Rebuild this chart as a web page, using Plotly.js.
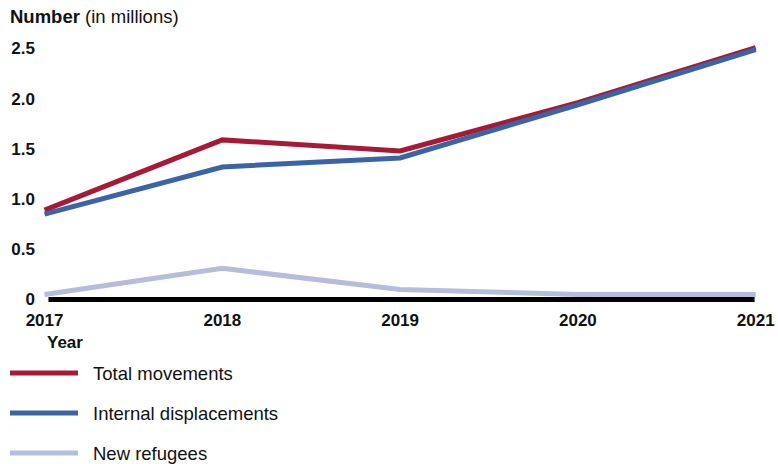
<!DOCTYPE html>
<html><head><meta charset="utf-8">
<script src="https://cdn.plot.ly/plotly-3.0.1.min.js"></script>
<style>html,body{margin:0;padding:0;background:#fff}#chart{width:778px;height:464px}</style>
</head><body><div id="chart"></div>
<script>
var years = [2017, 2018, 2019, 2020, 2021];
var totalMovements = [0.89, 1.59, 1.48, 1.96, 2.51];
var internalDisplacements = [0.85, 1.32, 1.41, 1.94, 2.49];
var newRefugees = [0.05, 0.31, 0.10, 0.05, 0.05];
var seriesNames = ['Total movements', 'Internal displacements', 'New refugees'];
var seriesColors = ['#a71a35', '#3b64a5', '#b6bcdc'];
var seriesValues = [totalMovements, internalDisplacements, newRefugees];
var yTicks = [0, 0.5, 1.0, 1.5, 2.0, 2.5];
var yTickText = ['0', '0.5', '1.0', '1.5', '2.0', '2.5'];

var FONT = 'Liberation Sans, Arial, sans-serif';
var traces = seriesValues.map(function (vals, i) {
  return {
    x: years, y: vals, type: 'scatter', mode: 'lines',
    name: seriesNames[i], showlegend: false, hoverinfo: 'skip',
    line: {color: seriesColors[i], width: 5}
  };
});

var shapes = [{
  type: 'line', xref: 'x', yref: 'y', x0: years[0] + 0.022, x1: years[years.length - 1] - 0.006, y0: 0, y1: 0,
  line: {color: '#000', width: 5}, layer: 'below'
}];
var annotations = [{
  xref: 'x', yref: 'paper', x: years[0], y: -0.153, xanchor: 'left', yanchor: 'middle',
  text: '<b>Year</b>', showarrow: false, font: {family: FONT, size: 17, color: '#111'}
}];
var legendRows = [373, 413, 453];
seriesNames.forEach(function (nm, i) {
  var yp = (302 - legendRows[i]) / 262;
  shapes.push({type: 'line', xref: 'paper', yref: 'paper',
    x0: (10 - 41) / 720, x1: (78 - 41) / 720, y0: yp, y1: yp,
    line: {color: seriesColors[i], width: 5}});
  annotations.push({xref: 'paper', yref: 'paper', x: (91 - 41) / 720, y: yp,
    xanchor: 'left', yanchor: 'middle', text: nm, showarrow: false,
    font: {family: FONT, size: 18.5, color: '#111'}});
});

var layout = {
  width: 778, height: 464,
  margin: {l: 41, r: 17, t: 40, b: 162},
  paper_bgcolor: '#fff', plot_bgcolor: '#fff',
  showlegend: false,
  font: {family: FONT, size: 17, color: '#111'},
  title: {
    text: '<b>Number</b> (in millions)', x: 10 / 778, xanchor: 'left', xref: 'container',
    y: 1 - 17 / 464, yanchor: 'middle', yref: 'container',
    font: {family: FONT, size: 18.5, color: '#111'}
  },
  xaxis: {
    range: [2016.98, 2021.03], tickvals: years, ticktext: years.map(function (y) { return '<b>' + y + '</b>'; }),
    showgrid: false, zeroline: false, showline: false, ticks: '', ticklabelstandoff: 6,
    tickfont: {family: FONT, size: 17, color: '#111'}
  },
  yaxis: {
    range: [-0.025, 2.585], tickvals: yTicks, ticktext: yTickText.map(function (t) { return '<b>' + t + '</b>'; }),
    showgrid: false, zeroline: false, showline: false, ticks: '', ticklabelstandoff: 5,
    tickfont: {family: FONT, size: 17, color: '#111'}
  },
  shapes: shapes,
  annotations: annotations
};

Plotly.newPlot('chart', traces, layout, {displayModeBar: false, staticPlot: true});
</script>
</body></html>
